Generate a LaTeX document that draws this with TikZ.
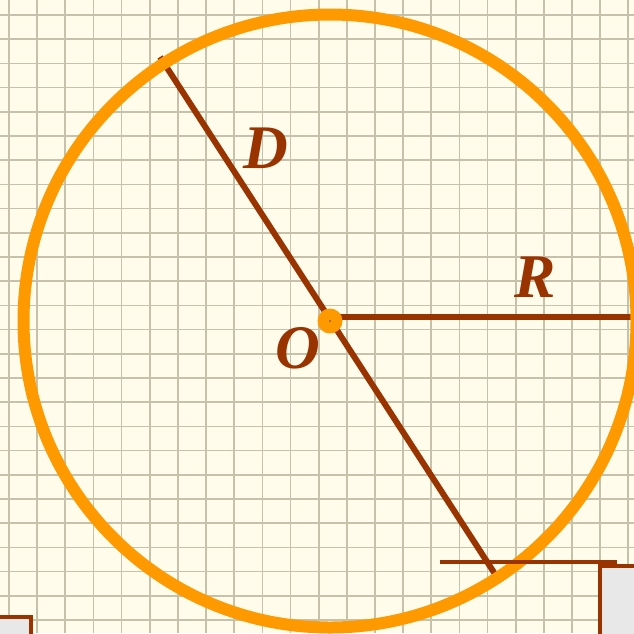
\documentclass[tikz,border=0pt]{standalone}
\usepackage{fontspec}
\setmainfont{Liberation Serif}
\newfontfamily\labelfont{Liberation Serif Bold Italic}
\usetikzlibrary{positioning}
\definecolor{paperbg}{HTML}{FFFCEB}
\definecolor{gridln}{HTML}{C6C1AA}
\definecolor{rimorange}{HTML}{FF9900}
\definecolor{segbrown}{HTML}{993300}
\definecolor{boxgray}{HTML}{E8E8E8}
\begin{document}
\begin{tikzpicture}[x=1pt,y=-1pt,
  seg/.style={line width=6pt,segbrown},
  lbl/.style={font=\fontsize{62}{64}\labelfont,text=segbrown,inner sep=0pt},
  tray/.style={draw=segbrown,line width=3.5pt,fill=boxgray}]
% Paper
\fill[paperbg] (0,0) rectangle (634,633);
\useasboundingbox (0,0) rectangle (634,633);
\foreach \i in {0,...,22} \draw[gridln,line width=1.7pt] ({9+28.15*\i},0) -- ({9+28.15*\i},633);
\foreach \j in {0,...,25} \draw[gridln,line width=1.7pt] (0,{15+24.2*\j}) -- (634,{15+24.2*\j});
% Points
\coordinate (O) at (330,321);
\coordinate (Dtop) at (160,57);
\coordinate (Dbot) at (495,574);
\coordinate (Rstart) at (330,317);
\coordinate (Rend) at (636,317);
\coordinate (Lstart) at (440,562);
\coordinate (Lend) at (617,562);
% Trays
\draw[tray] (600,566) rectangle (645,645);
\draw[tray] (-10,617) rectangle (31,645);
% Diameter and radius
\draw[seg] (Dtop) -- (Dbot);
\draw[seg] (Rstart) -- (Rend);
% Circle
\draw[rimorange,line width=12pt] (O) circle[radius=306.5pt];
\draw[segbrown,line width=4pt] (Lstart) -- (Lend);
\fill[rimorange] (O) circle[radius=12.5pt];
\fill[black!70] (O) circle[radius=0.8pt];
% Labels
\node[lbl] (labD) at (266,148) {D};
\node[lbl] (labR) at (535,277) {R};
\node[lbl] (labO) at (298,348) {O};
\end{tikzpicture}
\end{document}
